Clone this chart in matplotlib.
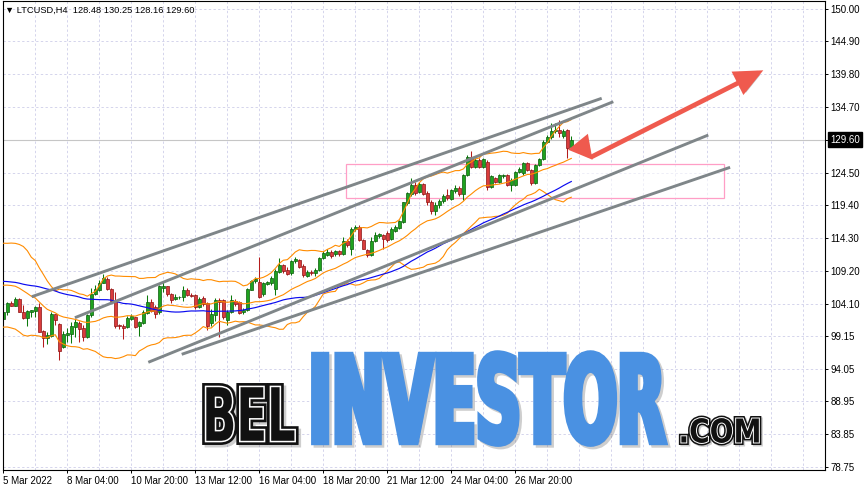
import numpy as np
import pandas as pd
import matplotlib
matplotlib.use("Agg")
import matplotlib.pyplot as plt
import matplotlib.colors as mcolors
from matplotlib.patches import Rectangle, FancyArrowPatch
from matplotlib.patheffects import AbstractPathEffect, withSimplePatchShadow
from matplotlib.transforms import Affine2D, blended_transform_factory

plt.rcParams['font.family'] = ['Liberation Sans', 'DejaVu Sans']

# ---------------- data ----------------
header_text = "\u25BC LTCUSD,H4  128.48 130.25 128.16 129.60"

opens = [101.7, 102.9, 104.2, 103.8, 104.8, 102.9, 101.9, 102.8, 103.0, 103.6,
         99.9, 98.8, 99.1, 102.5, 101.0, 97.4, 99.2, 99.4, 100.5, 101.2,
         100.3, 98.9, 102.3, 105.6, 106.3, 107.4, 108.0, 106.4, 104.5, 100.8,
         100.7, 100.5, 101.7, 102.0, 100.6, 101.2, 102.7, 104.4, 103.6, 102.8,
         106.6, 106.8, 105.6, 104.8, 105.1, 105.2, 106.3, 105.5, 105.5, 103.6,
         105.0, 104.2, 101.1, 102.4, 104.7, 104.7, 101.6, 102.9, 104.5, 104.4,
         102.9, 103.2, 106.3, 107.6, 107.5, 105.6, 107.2, 107.3, 106.4, 109.1,
         110.1, 109.4, 108.9, 110.7, 110.9, 110.0, 108.5, 109.1, 108.9, 109.4,
         111.2, 111.7, 112.1, 111.8, 112.3, 111.9, 113.8, 112.7, 115.8, 116.1,
         114.0, 112.5, 111.7, 113.9, 114.7, 114.8, 115.1, 114.2, 115.4, 115.9,
         116.9, 119.7, 121.2, 122.6, 121.5, 122.7, 121.3, 120.0, 118.6, 119.4,
         120.1, 121.0, 120.4, 121.7, 122.1, 121.2, 124.1, 127.0, 125.4, 126.5,
         125.4, 126.2, 122.3, 123.6, 123.1, 123.9, 124.1, 122.6, 122.6, 124.6,
         124.4, 126.0, 124.9, 122.9, 125.7, 126.6, 129.3, 130.0, 130.9, 131.1,
         130.2, 131.1, 128.48]
highs = [103.1, 104.4, 104.5, 105.2, 105.0, 103.9, 103.2, 103.2, 103.7, 104.2,
         100.0, 99.7, 102.8, 102.6, 101.1, 99.9, 100.4, 101.3, 101.8, 101.4,
         100.8, 102.5, 106.5, 107.0, 107.8, 108.8, 108.2, 106.6, 106.0, 101.0,
         100.9, 102.2, 102.6, 102.1, 101.5, 103.2, 105.5, 104.8, 104.0, 107.0,
         107.5, 106.9, 105.8, 105.6, 105.4, 106.9, 106.5, 105.8, 105.7, 105.2,
         105.3, 104.4, 103.3, 105.0, 105.0, 104.9, 103.1, 105.5, 104.8, 104.6,
         103.5, 106.6, 107.8, 108.2, 111.4, 107.5, 107.7, 108.4, 109.5, 111.2,
         110.3, 109.8, 110.9, 111.4, 111.1, 110.3, 109.4, 109.3, 109.7, 111.4,
         112.3, 112.6, 112.4, 112.5, 112.5, 114.5, 114.2, 116.0, 116.4, 116.4,
         114.2, 112.7, 114.5, 115.2, 115.1, 115.0, 115.4, 116.0, 116.3, 117.2,
         120.0, 121.5, 123.6, 123.0, 123.1, 122.9, 121.6, 120.2, 119.9, 120.4,
         121.2, 121.9, 122.0, 122.6, 122.4, 124.3, 127.2, 127.8, 126.7, 126.7,
         126.8, 126.5, 124.1, 123.8, 124.3, 124.3, 124.3, 123.6, 124.8, 125.3,
         126.2, 126.2, 125.1, 125.9, 126.8, 129.5, 130.3, 132.2, 132.2, 132.7,
         131.2, 131.3, 130.25]
lows = [101.6, 102.4, 103.7, 103.7, 102.8, 101.8, 100.7, 102.1, 102.1, 99.7,
        97.4, 97.8, 98.9, 100.8, 95.4, 97.2, 98.1, 98.0, 99.0, 98.2,
        98.3, 98.8, 102.1, 105.5, 106.1, 107.3, 106.3, 104.4, 100.4, 100.2,
        98.7, 100.4, 101.6, 100.3, 99.1, 101.0, 102.6, 102.8, 101.9, 102.6,
        106.0, 105.4, 104.2, 104.7, 104.8, 104.6, 105.3, 105.2, 103.3, 103.4,
        103.8, 100.0, 100.6, 101.5, 99.0, 101.7, 100.8, 102.7, 103.8, 102.5,
        102.6, 103.0, 106.2, 107.4, 105.0, 105.4, 107.0, 107.0, 105.5, 108.9,
        108.9, 108.6, 108.6, 110.4, 109.6, 108.3, 108.2, 108.6, 108.5, 109.2,
        111.0, 111.5, 111.3, 111.5, 111.6, 111.7, 112.9, 111.7, 115.5, 113.8,
        112.6, 111.4, 111.5, 113.7, 114.3, 112.7, 113.7, 114.0, 115.2, 115.7,
        116.7, 119.5, 120.9, 121.0, 121.3, 121.0, 119.5, 118.1, 117.9, 119.0,
        119.8, 120.2, 120.2, 121.4, 120.9, 120.2, 123.9, 125.2, 125.2, 125.2,
        125.2, 121.8, 122.1, 122.9, 122.9, 123.7, 122.4, 121.6, 122.4, 124.4,
        124.2, 124.7, 122.6, 122.7, 125.5, 126.4, 129.1, 129.8, 130.6, 130.1,
        129.9, 126.7, 128.16]
closes = [102.9, 104.2, 103.8, 104.8, 102.9, 101.9, 103.0, 103.1, 103.6, 99.8,
          98.8, 99.2, 102.6, 101.6, 96.8, 99.4, 99.5, 100.6, 101.3, 100.2,
          98.9, 102.4, 105.6, 106.4, 107.4, 108.1, 106.4, 104.6, 100.6, 100.6,
          100.4, 101.9, 102.2, 100.5, 101.3, 102.9, 104.4, 103.0, 102.6, 106.8,
          106.9, 105.7, 104.7, 105.2, 105.2, 106.3, 105.5, 105.4, 103.6, 104.8,
          104.1, 100.6, 102.5, 104.7, 104.4, 102.0, 102.9, 104.7, 104.1, 102.7,
          103.2, 106.4, 107.6, 108.0, 105.2, 107.3, 107.5, 108.1, 109.2, 110.1,
          109.2, 108.8, 110.7, 111.0, 109.9, 108.6, 109.1, 108.9, 109.4, 111.3,
          112.0, 112.2, 111.6, 112.3, 111.8, 113.8, 113.2, 115.8, 116.1, 114.0,
          112.7, 111.7, 113.9, 114.8, 114.9, 114.2, 114.0, 115.8, 116.1, 117.0,
          119.9, 121.3, 122.6, 121.4, 122.7, 121.2, 120.0, 118.5, 119.5, 120.1,
          120.9, 120.5, 121.8, 122.1, 121.2, 124.1, 127.0, 125.4, 126.5, 125.4,
          126.6, 122.3, 123.9, 123.1, 124.1, 124.1, 122.6, 123.4, 124.6, 125.0,
          126.0, 124.9, 122.9, 125.7, 126.6, 129.3, 130.1, 130.9, 131.1, 130.7,
          131.0, 128.4, 129.60]

# closes before the first visible bar (feed the indicators only)
prev_closes = [107.0,
               106, 107, 108, 109, 110, 109, 108, 107, 106, 107, 108, 109, 110, 109,
               108, 107, 106, 107, 108, 109, 108, 107, 108, 109, 108, 107, 108,
               110, 109, 108,
               104, 105, 107, 109, 110, 111, 112, 109.2,
               112, 111, 110, 108, 107, 105, 104, 101.9,
               103, 104, 104]

date_labels = ["5 Mar 2022", "8 Mar 04:00", "10 Mar 20:00", "13 Mar 12:00",
               "16 Mar 04:00", "18 Mar 20:00", "21 Mar 12:00", "24 Mar 04:00",
               "26 Mar 20:00"]
date_label_bars = [0, 16, 32, 48, 64, 80, 96, 112, 128]
price_ticks = [150.00, 144.90, 139.80, 134.70, 129.60, 124.50, 119.40, 114.30,
               109.20, 104.10, 99.15, 94.05, 88.95, 83.85, 78.75]
last_price = 129.60

# drawn objects (in bar index / price units)
trend_x0 = [7.1, 17.9, 36.25, 44.6]
trend_y0 = [105.21, 101.95, 95.02, 96.26]
trend_x1 = [149.6, 152.5, 176.25, 181.7]
trend_y1 = [136.05, 135.52, 130.34, 125.32]
zone_x = [85.7, 180.2]
zone_y = [120.50, 125.84]
arrow_down_x = [143.8, 147.3]
arrow_down_y = [129.2, 126.5]
arrow_up_x = [146.9, 190.0]
arrow_up_y = [126.9, 140.4]

# ---------------- figure ----------------
W, H = 866, 493
fig = plt.figure(figsize=(W / 100, H / 100), dpi=100)
fig.patch.set_facecolor('white')
ax = fig.add_axes([3 / W, 23 / H, 822 / W, 469 / H])
ax.set_facecolor('white')
ax.set_xlim(-0.075, 205.425)
ax.set_ylim(78.28, 151.17)

grid_c = '#d4d4ec'
for p in price_ticks:
    ax.axhline(p, color=grid_c, lw=0.7, ls=(0, (2.4, 2.4)), zorder=0.5)
for b in range(0, 206, 8):
    ax.axvline(b, color=grid_c, lw=0.7, ls=(0, (2.4, 2.4)), zorder=0.5)

ax.axhline(last_price, color='#c6c6c6', lw=0.8, zorder=0.8)

# zone rectangle
ax.add_patch(Rectangle((zone_x[0], zone_y[0]), zone_x[1] - zone_x[0], zone_y[1] - zone_y[0],
                       facecolor=(1, 1, 1, 0.6), edgecolor='#ff9ec6', lw=0.9, zorder=1.0))

# candles
o = np.array(opens); h = np.array(highs); l = np.array(lows); c = np.array(closes)
x = np.arange(len(c))
up = c >= o
bot = np.minimum(o, c)
hgt = np.maximum(np.abs(c - o), 0.07)
ax.vlines(x[up], l[up], h[up], color='#0b7a0b', lw=0.75, zorder=2)
ax.vlines(x[~up], l[~up], h[~up], color='#b41c1c', lw=0.75, zorder=2)
ax.bar(x[up], hgt[up], bottom=bot[up], width=0.72, color='#1fa21f',
       edgecolor='#0a5c0a', linewidth=0.5, zorder=2.2)
ax.bar(x[~up], hgt[~up], bottom=bot[~up], width=0.72, color='#da3c3c',
       edgecolor='#8a1414', linewidth=0.5, zorder=2.2)

# indicators
allc = pd.Series(list(prev_closes) + list(closes), dtype=float)
mid = allc.rolling(20).mean()
sd = allc.rolling(20).std(ddof=0)
ma50 = allc.rolling(50).mean()
k = len(prev_closes)
ax.plot(x, (mid + 2 * sd).values[k:], color='#ff8c00', lw=0.8, zorder=3)
ax.plot(x, mid.values[k:], color='#ff8c00', lw=0.8, zorder=3)
ax.plot(x, (mid - 2 * sd).values[k:], color='#ff8c00', lw=0.8, zorder=3)
ax.plot(x, ma50.values[k:], color='#0a0af0', lw=0.85, zorder=3)

# trend lines
for a0, b0, a1, b1 in zip(trend_x0, trend_y0, trend_x1, trend_y1):
    ax.plot([a0, a1], [b0, b1], color='#7f8689', lw=2.1, solid_capstyle='butt', zorder=4)

# red arrows
shadow = [withSimplePatchShadow(offset=(1.5, -1.5), shadow_rgbFace='#777777', alpha=0.45)]
a1 = FancyArrowPatch((arrow_up_x[0], arrow_up_y[0]), (arrow_up_x[1], arrow_up_y[1]),
                     arrowstyle='-|>,head_length=0.75,head_width=0.34', mutation_scale=20,
                     color='#ef5a4e', lw=3.4, shrinkA=0, shrinkB=0, zorder=5,
                     joinstyle='miter', capstyle='butt')
a1.set_path_effects(shadow)
ax.add_patch(a1)
a2 = FancyArrowPatch((arrow_down_x[0], arrow_down_y[0]), (arrow_down_x[1], arrow_down_y[1]),
                     arrowstyle='-|>,head_length=1.0,head_width=0.55', mutation_scale=12,
                     color='#ef5a4e', lw=3.0, shrinkA=0, shrinkB=0, zorder=5,
                     joinstyle='miter', capstyle='butt')
a2.set_path_effects(shadow)
ax.add_patch(a2)

# axes styling
for s in ax.spines.values():
    s.set_color('black')
    s.set_linewidth(0.8)
ax.yaxis.tick_right()
ax.set_yticks(price_ticks)
ax.set_yticklabels(['' if abs(p - last_price) < 1e-9 else f"{p:.2f}" for p in price_ticks])
ax.set_xticks(date_label_bars)
ax.set_xticklabels(date_labels)
for t in ax.get_xticklabels():
    t.set_horizontalalignment('left')
ax.tick_params(axis='y', direction='out', length=2.2, width=0.7, pad=1.5, labelsize=7)
ax.tick_params(axis='x', direction='out', length=2.2, width=0.7, pad=2.0, labelsize=7)

trans = blended_transform_factory(ax.transAxes, ax.transData)
ax.annotate(f"{last_price:.2f}", xy=(1.0, last_price), xycoords=trans,
            xytext=(3.6, 0), textcoords='offset points', ha='left', va='center',
            fontsize=7, color='white', annotation_clip=False,
            bbox=dict(boxstyle='square,pad=0.25', fc='black', ec='black'))

fig.text(5 / W, 1 - 10.5 / H, header_text, fontsize=6.7, ha='left', va='center', color='black')


# ---------------- watermark ----------------
class Stretch(AbstractPathEffect):
    def __init__(self, sy, fc=None, ec=None, lw=0.0, offset=(0.0, 0.0)):
        super().__init__()
        self.sy = sy
        self.fc = fc
        self.ec = ec
        self.lw = lw
        self.off = offset

    def draw_path(self, renderer, gc, tpath, affine, rgbFace=None):
        y0 = affine.get_matrix()[1, 2]
        aff = affine + Affine2D().translate(0, -y0).scale(1.0, self.sy).translate(
            self.off[0], y0 + self.off[1])
        gc0 = renderer.new_gc()
        gc0.copy_properties(gc)
        if self.lw > 0:
            gc0.set_linewidth(self.lw)
            gc0.set_foreground(mcolors.to_rgba(self.ec))
            gc0.set_joinstyle('miter')
        else:
            gc0.set_linewidth(0.0)
        face = mcolors.to_rgba(self.fc) if self.fc is not None else None
        renderer.draw_path(gc0, tpath, aff, face)
        gc0.restore()


CAP = 0.729  # cap height / em of DejaVu Sans Bold
logo = [
    # text, glyph left px, baseline px, glyph width px, glyph cap px, style
    ("BEL", 202.2, 440.8, 93.7, 53.6, 'inline'),
    ("INVESTOR", 308.5, 442.0, 358.0, 87.0, 'solid'),
    (".COM", 678.5, 442.5, 83.0, 24.0, 'inline_small'),
]
texts = []
for s, lx, by, tw, cap, style in logo:
    t = fig.text(lx / W, 1 - by / H, s, fontsize=10, fontweight='bold',
                 family='DejaVu Sans', ha='left', va='baseline',
                 color='#4a91e2' if style == 'solid' else '#111111', zorder=20)
    texts.append(t)

fig.canvas.draw()
rend = fig.canvas.get_renderer()
shadow_c = (0.45, 0.45, 0.45, 0.35)
for t, (s, lx, by, tw, cap, style) in zip(texts, logo):
    w10 = t.get_window_extent(rend).width
    fs = 10 * tw / w10
    t.set_fontsize(fs)
    sy = cap / (fs * 100 / 72 * CAP)
    if style == 'solid':
        eff = [Stretch(sy, fc=shadow_c, ec=shadow_c, lw=4.6, offset=(2.5, -2.5)),
               Stretch(sy, fc='#4a91e2', ec='#4a91e2', lw=4.6)]
    elif style == 'inline':
        eff = [Stretch(sy, fc=shadow_c, ec=shadow_c, lw=6.0, offset=(2.5, -2.5)),
               Stretch(sy, fc='#111111', ec='#111111', lw=6.0),
               Stretch(sy, fc=None, ec='white', lw=2.2),
               Stretch(sy, fc='#111111')]
    else:
        eff = [Stretch(sy, fc=shadow_c, ec=shadow_c, lw=3.6, offset=(1.5, -1.5)),
               Stretch(sy, fc='#111111', ec='#111111', lw=3.6),
               Stretch(sy, fc=None, ec='white', lw=1.4),
               Stretch(sy, fc='#111111')]
    t.set_path_effects(eff)

fig.savefig('out.png', dpi=100, facecolor='white')
